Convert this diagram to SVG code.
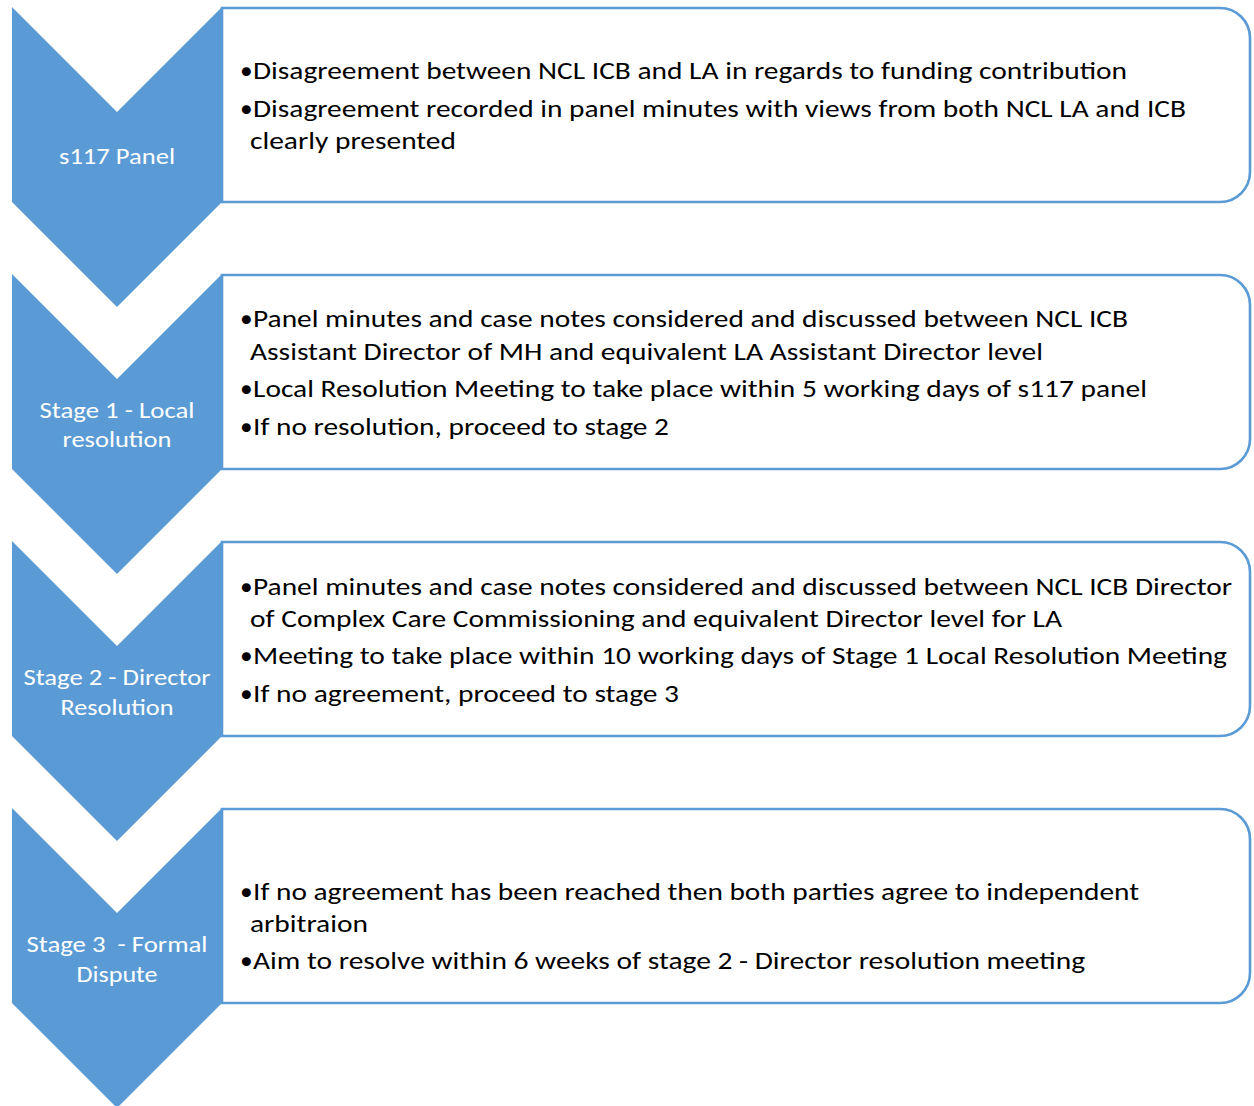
<svg xmlns="http://www.w3.org/2000/svg" width="1254" height="1106" viewBox="0 0 1254 1106">
<style>
.box{fill:#ffffff;stroke:#5B9BD5;stroke-width:2.6}
.chev{fill:#5B9BD5}
.t{font-family:Carlito,Lato,"Open Sans",sans-serif;font-size:25.5px;fill:#000000}
.lbl{font-family:Carlito,Lato,"Open Sans",sans-serif;font-size:22px;fill:#ffffff;text-anchor:middle}
</style>
<rect width="1254" height="1106" fill="#ffffff"/>
<g id="stage0">
<path class="box" d="M222,8 H1220 A30,30 0 0 1 1250,38 V172 A30,30 0 0 1 1220,202 H222 Z"/>
<path class="chev" d="M12,7 L117,112 L222,7 V202 L117,307 L12,202 Z"/>
<text class="lbl" x="117" y="164" textLength="116" lengthAdjust="spacingAndGlyphs">s117 Panel</text>
<text class="t" x="240" y="79">•</text>
<text class="t" x="253" y="79" textLength="874" lengthAdjust="spacingAndGlyphs">Disagreement between NCL ICB and LA in regards to funding contribution</text>
<text class="t" x="240" y="117">•</text>
<text class="t" x="253" y="117" textLength="933" lengthAdjust="spacingAndGlyphs">Disagreement recorded in panel minutes with views from both NCL LA and ICB</text>
<text class="t" x="250" y="149" textLength="206" lengthAdjust="spacingAndGlyphs">clearly presented</text>
</g>
<g id="stage1">
<path class="box" d="M222,275 H1220 A30,30 0 0 1 1250,305 V439 A30,30 0 0 1 1220,469 H222 Z"/>
<path class="chev" d="M12,274 L117,379 L222,274 V469 L117,574 L12,469 Z"/>
<text class="lbl" x="117" y="418" textLength="155" lengthAdjust="spacingAndGlyphs">Stage 1 - Local</text>
<text class="lbl" x="117" y="447" textLength="109" lengthAdjust="spacingAndGlyphs">resolution</text>
<text class="t" x="240" y="327">•</text>
<text class="t" x="253" y="327" textLength="875" lengthAdjust="spacingAndGlyphs">Panel minutes and case notes considered and discussed between NCL ICB</text>
<text class="t" x="250" y="360" textLength="793" lengthAdjust="spacingAndGlyphs">Assistant Director of MH and equivalent LA Assistant Director level</text>
<text class="t" x="240" y="397">•</text>
<text class="t" x="253" y="397" textLength="894" lengthAdjust="spacingAndGlyphs">Local Resolution Meeting to take place within 5 working days of s117 panel</text>
<text class="t" x="240" y="435">•</text>
<text class="t" x="253" y="435" textLength="416" lengthAdjust="spacingAndGlyphs">If no resolution, proceed to stage 2</text>
</g>
<g id="stage2">
<path class="box" d="M222,542 H1220 A30,30 0 0 1 1250,572 V706 A30,30 0 0 1 1220,736 H222 Z"/>
<path class="chev" d="M12,541 L117,646 L222,541 V736 L117,841 L12,736 Z"/>
<text class="lbl" x="117" y="685" textLength="187" lengthAdjust="spacingAndGlyphs">Stage 2 - Director</text>
<text class="lbl" x="117" y="715" textLength="113" lengthAdjust="spacingAndGlyphs">Resolution</text>
<text class="t" x="240" y="595">•</text>
<text class="t" x="253" y="595" textLength="979" lengthAdjust="spacingAndGlyphs">Panel minutes and case notes considered and discussed between NCL ICB Director</text>
<text class="t" x="250" y="627" textLength="812" lengthAdjust="spacingAndGlyphs">of Complex Care Commissioning and equivalent Director level for LA</text>
<text class="t" x="240" y="664">•</text>
<text class="t" x="253" y="664" textLength="974" lengthAdjust="spacingAndGlyphs">Meeting to take place within 10 working days of Stage 1 Local Resolution Meeting</text>
<text class="t" x="240" y="702">•</text>
<text class="t" x="253" y="702" textLength="426" lengthAdjust="spacingAndGlyphs">If no agreement, proceed to stage 3</text>
</g>
<g id="stage3">
<path class="box" d="M222,809 H1220 A30,30 0 0 1 1250,839 V973 A30,30 0 0 1 1220,1003 H222 Z"/>
<path class="chev" d="M12,808 L117,913 L222,808 V1003 L117,1108 L12,1003 Z"/>
<text class="lbl" x="117" y="952" textLength="181" lengthAdjust="spacingAndGlyphs" xml:space="preserve">Stage 3  - Formal</text>
<text class="lbl" x="117" y="982" textLength="81" lengthAdjust="spacingAndGlyphs">Dispute</text>
<text class="t" x="240" y="900">•</text>
<text class="t" x="253" y="900" textLength="886" lengthAdjust="spacingAndGlyphs">If no agreement has been reached then both parties agree to independent</text>
<text class="t" x="250" y="932" textLength="118" lengthAdjust="spacingAndGlyphs">arbitraion</text>
<text class="t" x="240" y="969">•</text>
<text class="t" x="253" y="969" textLength="832" lengthAdjust="spacingAndGlyphs">Aim to resolve within 6 weeks of stage 2 - Director resolution meeting</text>
</g>
<g id="connectors"/>
</svg>
